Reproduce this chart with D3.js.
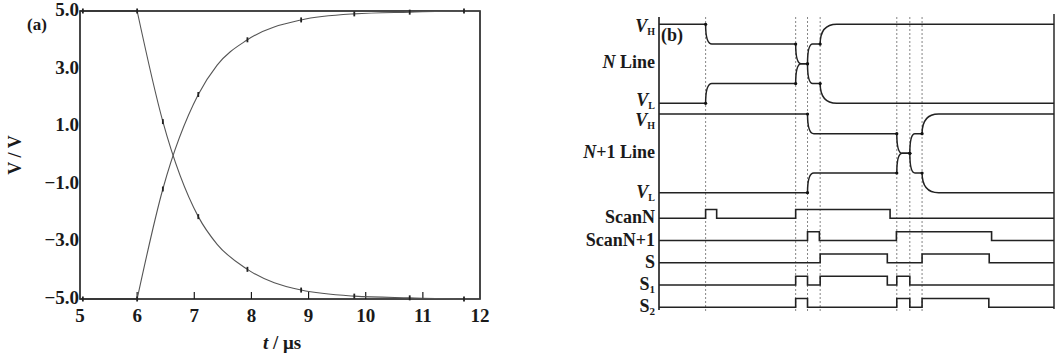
<!DOCTYPE html>
<html>
<head>
<meta charset="utf-8">
<script src="https://cdn.jsdelivr.net/npm/d3@7"></script>
<style>
  body { margin: 0; background: #fff; }
  text { font-family: "Liberation Serif", "Times New Roman", serif; font-weight: bold; fill: #1a1a1a; }
</style>
</head>
<body>
<svg id="fig" width="1055" height="354"></svg>
<script>
// ---- (a) measured line voltages ----
const timesA = [5, 5.05, 6.0, 6.45, 7.07, 7.4, 7.93, 8.87, 9.8, 10.77, 11.72, 12];
const fallingV = [5, 5, 5, 1.16, -2.14, -3.1, -3.97, -4.69, -4.9, -4.96, -5, -5];
const risingV = [-5, -5, -5, -1.18, 2.1, 3.12, 4.0, 4.69, 4.9, 4.96, 5, 5];
const markerTimesA = [5.05, 6.0, 6.45, 7.07, 7.93, 8.87, 9.8, 10.77, 11.72];
const xTicksA = [5, 6, 7, 8, 9, 10, 11, 12];
const yTicksA = [5, 3, 1, -1, -3, -5];

// ---- (b) timing diagram ----
// analog lines: [time, level (V), settle time]
const nUpper = [[0, 5, 0], [11.8, 2.5, 1.6], [34.6, 0, 1.4], [37.6, 2.5, 1.3], [40.8, 5, 4.2]];
const nLower = [[0, -5, 0], [11.8, -2.5, 1.6], [34.6, 0, 1.4], [37.6, -2.5, 1.3], [40.8, -5, 4.2]];
const n1Upper = [[0, 5, 0], [37.6, 2.5, 1.6], [60.2, 0, 1.4], [63.5, 2.5, 1.3], [66.6, 5, 4.2]];
const n1Lower = [[0, -5, 0], [37.6, -2.5, 1.6], [60.2, 0, 1.4], [63.5, -2.5, 1.3], [66.6, -5, 4.2]];
// digital control signals: [time, level]
const signalNames = ["ScanN", "ScanN+1", "S", "S1", "S2"];
const scanN = [[0, 0], [11.8, 1], [14.6, 0], [34.6, 1], [58.5, 0]];
const scanN1 = [[0, 0], [37.6, 1], [40.6, 0], [60.1, 1], [84.2, 0]];
const sigS = [[0, 0], [40.8, 1], [57.8, 0], [66.6, 1], [83.6, 0]];
const sigS1 = [[0, 0], [34.6, 1], [37.6, 0], [40.8, 1], [57.8, 0], [60.2, 1], [63.5, 0]];
const sigS2 = [[0, 0], [34.6, 1], [37.6, 0], [60.2, 1], [63.5, 0], [66.6, 1], [83.5, 0]];
const eventTimes = [11.8, 34.6, 37.6, 40.8, 60.2, 63.5, 66.6];

const svg = d3.select("#fig");
const ink = "#1a1a1a";

// ================= panel (a) =================
const xA = d3.scaleLinear().domain([5, 12]).range([80, 480]);
const yA = d3.scaleLinear().domain([-5, 5]).range([299, 11]);
const gA = svg.append("g");

gA.append("rect")
    .attr("x", xA(5)).attr("y", yA(5))
    .attr("width", xA(12) - xA(5)).attr("height", yA(-5) - yA(5))
    .attr("fill", "none").attr("stroke", ink).attr("stroke-width", 1.6);

// inward ticks on bottom
gA.selectAll(".xtick")
    .data(xTicksA.slice(1, -1))
    .enter().append("line")
    .attr("x1", d => xA(d)).attr("x2", d => xA(d))
    .attr("y1", yA(-5)).attr("y2", yA(-5) - 7)
    .attr("stroke", ink).attr("stroke-width", 1.2);

gA.selectAll(".xlab")
    .data(xTicksA)
    .enter().append("text")
    .attr("x", d => xA(d)).attr("y", 322)
    .attr("text-anchor", "middle").attr("font-size", 19)
    .text(d => d);

const fmt = d3.format(".1f");
gA.selectAll(".ylab")
    .data(yTicksA)
    .enter().append("text")
    .attr("x", 79).attr("y", d => yA(d) + 5)
    .attr("text-anchor", "end").attr("font-size", 19)
    .text(d => fmt(d));

gA.append("text")
    .attr("transform", "translate(21," + yA(0) + ") rotate(-90)")
    .attr("text-anchor", "middle").attr("font-size", 18)
    .text("V / V");

const xLabel = gA.append("text")
    .attr("x", 282).attr("y", 349)
    .attr("text-anchor", "middle").attr("font-size", 19);
xLabel.append("tspan").attr("font-style", "italic").text("t");
xLabel.append("tspan").text(" / μs");

gA.append("text").attr("x", 27).attr("y", 30).attr("font-size", 17).text("(a)");

const flat = d3.line().x(d => xA(d[0])).y(d => yA(d[1]));
const smooth = d3.line().x(d => xA(d[0])).y(d => yA(d[1])).curve(d3.curveMonotoneX);

[fallingV, risingV].forEach(vals => {
    const pts = timesA.map((t, i) => [t, vals[i]]);
    gA.append("path").attr("d", flat(pts.slice(0, 3)))
        .attr("fill", "none").attr("stroke", "#333").attr("stroke-width", 1.4);
    gA.append("path").attr("d", smooth(pts.slice(2)))
        .attr("fill", "none").attr("stroke", "#555").attr("stroke-width", 1.1);
    const marks = pts.filter(p => markerTimesA.includes(p[0]));
    gA.selectAll(null).data(marks).enter().append("line")
        .attr("x1", d => xA(d[0])).attr("x2", d => xA(d[0]))
        .attr("y1", d => yA(d[1]) - 2.5).attr("y2", d => yA(d[1]) + 2.5)
        .attr("stroke", "#222").attr("stroke-width", 1.8);
});

// ================= panel (b) =================
const xB = d3.scaleLinear().domain([0, 100]).range([659, 1054]);
const yN = d3.scaleLinear().domain([-5, 5]).range([103.3, 24.3]);
const yN1 = d3.scaleLinear().domain([-5, 5]).range([192.7, 114]);
const ySig = d3.scalePoint().domain(signalNames).range([218.3, 307.3]);
const pulseH = 8.8;
const gB = svg.append("g");

// dotted event markers
gB.selectAll(".ev")
    .data(eventTimes)
    .enter().append("line")
    .attr("x1", d => xB(d)).attr("x2", d => xB(d))
    .attr("y1", 17).attr("y2", 312)
    .attr("stroke", "#777").attr("stroke-width", 0.9)
    .attr("stroke-dasharray", "2,2");

// left axis and right edge
gB.append("line").attr("x1", xB(0)).attr("x2", xB(0)).attr("y1", 17).attr("y2", 310)
    .attr("stroke", ink).attr("stroke-width", 1.6);
gB.append("line").attr("x1", xB(100)).attr("x2", xB(100)).attr("y1", 14).attr("y2", 309)
    .attr("stroke", ink).attr("stroke-width", 1.4);

// analog trace: vertical start, settling into the new level
function analogPath(steps, y) {
    const p = d3.path();
    p.moveTo(xB(0), y(steps[0][1]));
    for (let i = 1; i < steps.length; i++) {
        const [t, v, s] = steps[i];
        const y0 = y(steps[i - 1][1]);
        p.lineTo(xB(t), y0);
        p.quadraticCurveTo(xB(t), y(v), xB(t + s), y(v));
    }
    p.lineTo(xB(100), y(steps[steps.length - 1][1]));
    return p.toString();
}

[[nUpper, yN], [nLower, yN], [n1Upper, yN1], [n1Lower, yN1]].forEach(([steps, y]) => {
    gB.append("path").attr("d", analogPath(steps, y))
        .attr("fill", "none").attr("stroke", "#222").attr("stroke-width", 1.5);
    gB.selectAll(null).data(steps.slice(1)).enter().append("circle")
        .attr("cx", (d, i) => xB(d[0])).attr("cy", (d, i) => y(steps[i][1]))
        .attr("r", 1.6).attr("fill", "#111");
});

// digital traces
const step = d3.line().curve(d3.curveStepAfter);
[scanN, scanN1, sigS, sigS1, sigS2].forEach((sig, k) => {
    const base = ySig(signalNames[k]);
    const pts = sig.map(d => [xB(d[0]), base - d[1] * pulseH]);
    pts.push([xB(100), base - sig[sig.length - 1][1] * pulseH]);
    gB.append("path").attr("d", step(pts))
        .attr("fill", "none").attr("stroke", "#222").attr("stroke-width", 1.6);
});

// labels
const lx = 655;
function vLabel(y, sub) {
    const t = gB.append("text").attr("x", lx).attr("y", y).attr("text-anchor", "end").attr("font-size", 18);
    t.append("tspan").attr("font-style", "italic").text("V");
    t.append("tspan").attr("font-size", 10).attr("dy", 3).text(sub);
}
vLabel(yN(5) + 8, "H");
vLabel(yN(-5) + 3, "L");
vLabel(yN1(5) + 12, "H");
vLabel(yN1(-5) + 5, "L");

function lineLabel(y, rest) {
    const t = gB.append("text").attr("x", lx).attr("y", y).attr("text-anchor", "end").attr("font-size", 18);
    t.append("tspan").attr("font-style", "italic").text("N");
    t.append("tspan").text(rest);
}
lineLabel(yN(0) + 4, " Line");
lineLabel(yN1(0) + 5, "+1 Line");

signalNames.forEach(name => {
    const t = gB.append("text").attr("x", lx).attr("y", ySig(name) + 5)
        .attr("text-anchor", "end").attr("font-size", 18);
    if (name === "S1" || name === "S2") {
        t.append("tspan").text("S");
        t.append("tspan").attr("font-size", 11).attr("dy", 3).text(name.slice(1));
    } else {
        t.text(name);
    }
});

gB.append("text").attr("x", 661).attr("y", 41).attr("font-size", 18).text("(b)");
</script>
</body>
</html>
